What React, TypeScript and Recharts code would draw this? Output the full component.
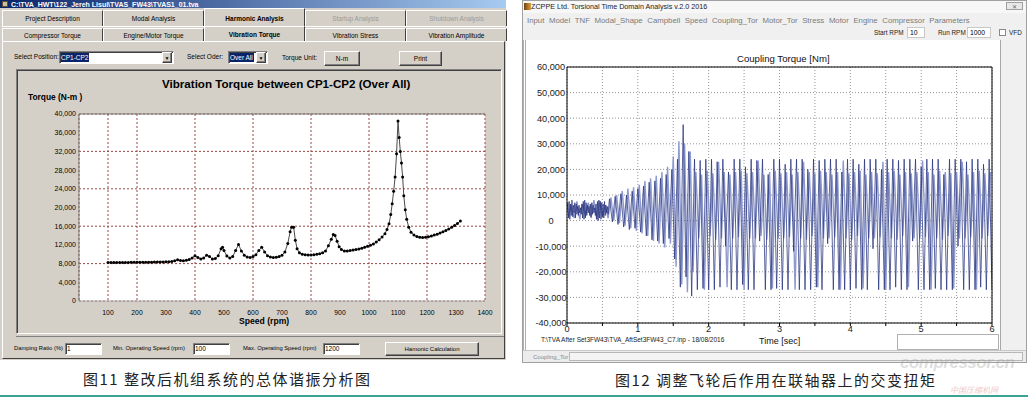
import React from 'react';
import { LineChart, Line, XAxis, YAxis, CartesianGrid } from 'recharts';

// ---- Fig 11: overall harmonic torque vs speed ----
const speedRpm = [
  100, 110, 120, 130, 140, 150, 160, 170, 180, 190,
  200, 210, 220, 230, 240, 250, 260, 270, 280, 290,
  300, 310, 320, 330, 340, 350, 360, 370, 380, 390,
  400, 410, 420, 430, 440, 450, 460, 470, 480, 490,
  495, 500, 510, 520, 530, 540, 550, 560, 570, 580,
  590, 600, 610, 620, 630, 640, 650, 660, 670, 680,
  690, 700, 710, 720, 728, 733, 740, 746, 752, 760,
  770, 780, 790, 800, 810, 820, 830, 840, 850, 860,
  870, 877, 883, 890, 897, 905, 915, 925, 935, 945,
  955, 965, 975, 985, 995, 1005, 1015, 1025, 1035, 1045,
  1055, 1062, 1069, 1075, 1080, 1085, 1090, 1095, 1100, 1104,
  1108, 1112, 1116, 1120, 1125, 1130, 1137, 1145, 1155, 1165,
  1175, 1185, 1195, 1205, 1215, 1225, 1235, 1245, 1255, 1265,
  1275, 1285, 1295, 1305, 1315,
];
const torqueNm = [
  8250, 8250, 8250, 8250, 8250, 8260, 8260, 8260, 8270, 8270,
  8280, 8280, 8290, 8300, 8300, 8310, 8320, 8330, 8340, 8350,
  8380, 8400, 8450, 8600, 8800, 8650, 8600, 8700, 8900, 9200,
  9700, 9300, 9000, 9200, 9800, 9500, 9000, 9100, 9700, 11200,
  11500, 10800, 9600, 9200, 9500, 10800, 12100, 10700, 9800, 9400,
  9300, 9500, 9900, 10800, 11500, 10500, 9700, 9400, 9300, 9350,
  9500, 9800, 10500, 12300, 14800, 15800, 15800, 13000, 11200, 10300,
  10000, 9900, 9850, 9850, 9900, 10000, 10100, 10300, 10700, 11800,
  13200, 14200, 14000, 12800, 11600, 11000, 10700, 10700, 10800, 10900,
  11000, 11100, 11300, 11500, 11700, 11900, 12200, 12600, 13100, 13700,
  14400, 15300, 16500, 18500, 20800, 23500, 26500, 31500, 38500, 35000,
  32000, 29500, 26500, 22500, 19500, 17500, 15800, 14700, 14100, 13800,
  13650, 13600, 13650, 13750, 13900, 14100, 14300, 14550, 14800, 15100,
  15400, 15750, 16150, 16600, 17100,
];
const speedTicks = [100, 200, 300, 400, 500, 600, 700, 800, 900, 1000, 1100, 1200, 1300, 1400];
const torqueTicks = [0, 4000, 8000, 12000, 16000, 20000, 24000, 28000, 32000, 36000, 40000];
const minorSpeedTicks = Array.from({ length: 57 }, (_, i) => i * 25);
const minorTorqueTicks = Array.from({ length: 51 }, (_, i) => i * 800);

// ---- Fig 12: coupling torque in time domain ----
// start-up band, sampled every 0.01 s from 0.00 s
const darkStartNm = [
  3000, 7000, 1000, 7500, 500, 6500, 2000, 8000, 1500, 6000,
  3000, 7000, 1000, 6500, 2500, 5500, 2000, 6000, 3000, 5000,
  2500, 6500, 1000, 7500, 500, 8000, 1000, 7000, 2000, 6000,
  3000, 5500, 2000, 6500, 1500, 7000, 2500, 6000, 3000, 5000,
  2000, 6500, 500, 7500, 0, 8000, 1000, 7500, 500, 7000,
  1500, 6500, 1000, 7500, 2000, 6000, 3000, 5500, 2500, 6000,
];
// dark trace, sampled every 0.04 s from 0.60 s
const darkRestNm = [
  8500, -500, 9500, -1500, 10500, -2500, 10000, -3500, 11500, -3000,
  12500, -4500, 13500, -6000, 15000, -7500, 15500, -8000, 16500, -9000,
  18000, -7000, 20000, -15000, 24000, -26000, 37500, -22000, 27000, -29500,
  24000, -27000, 23500, -26500, 24000, -27000,
  24000, -27000, 23000, -26000, 24000, -10000, 19000, -27000, 24000, -27000,
  24000, -25000, 21000, -27000, 24000, -27000, 23500, -8000, 24000, -27000,
  18000, -27000, 24000, -26500, 24000, -27000, 22000, -27000, 24000, -12000,
  24000, -27000, 24000, -27000, 20000, -27000, 24000, -26000, 23500, -27000,
  24000, -9000, 24000, -27000, 24000, -27000, 19000, -27000, 24000, -27000,
  24000, -26500, 22000, -27000, 24000, -27000, 24000, -11000, 24000, -27000,
  20000, -27000, 24000, -27000, 24000, -26000, 23500, -27000, 24000, -27000,
  24000, -8000, 24000, -27000, 21000, -27000, 24000, -27000, 24000, -26500,
  24000, -27000, 18000, -27000, 24000, -27000, 24000, -10000, 24000, -27000,
  23000, -27000, 24000, -27000, 24000, -26000, 22000, -27000, 24000, -27000,
];
// light trace, sampled every 0.04 s from 0.02 s
const lightNm = [
  1500, 6000, 1000, 7500, 500, 6500, 2000, 7000, 1000, 8000,
  500, 7500, 1500, 6000, 1000,
  9000, 0, 10000, -1000, 11500, -2000, 12500, -3000, 13000, -4000,
  14000, -5000, 15500, -6000, 16500, -8000, 17500, -9000, 19000, -10500,
  21000, -9000, 25000,
  -18000, 31000, -25000, 30000, -28000, 27000, -20000,
  19000, -7000, 18000, -27000, 19500, -6000, 18500, -7500, 23000, -7000,
  19000, -26000, 18000, -7000, 19000, -6500, 19500, -27000, 18500, -7000,
  19000, -7000, 23500, -6000, 18000, -7500, 19000, -26500, 19500, -7000,
  18500, -7000, 19000, -6500, 18000, -27000, 19000, -7000, 23000, -7500,
  19000, -6000, 18500, -26000, 19500, -7000, 19000, -7000, 18000, -6500,
  19000, -27000, 23500, -7000, 18500, -7500, 19000, -6000, 19500, -26500,
  18000, -7000, 19000, -7000, 18500, -6500, 23000, -27000, 19000, -7000,
  19500, -7500, 18000, -6000, 19000, -26000, 18500, -7000, 19000, -7000,
  23500, -6500, 19000, -27000, 18000, -7000, 19500, -7500, 19000, -6000,
  18500, -26500, 19000, -7000, 23000, -7000, 18000, -6500, 19000, -27000,
  19500, -7000, 18500, -6000, 19000,
];
const timeTicks = [0, 0.5, 1, 1.5, 2, 2.5, 3, 3.5, 4, 4.5, 5, 5.5, 6];
const couplingTicks = [-40000, -30000, -20000, -10000, 0, 10000, 20000, 30000, 40000, 50000, 60000];

const menuItems = ['Input', 'Model', 'TNF', 'Modal_Shape', 'Campbell', 'Speed', 'Coupling_Tor', 'Motor_Tor', 'Stress', 'Motor', 'Engine', 'Compressor', 'Parameters'];
const tabsTop = ['Project Description', 'Modal Analysis', 'Harmonic Analysis', 'Startup Analysis', 'Shutdown Analysis'];
const tabsBottom = ['Compressor Torque', 'Engine/Motor Torque', 'Vibration Torque', 'Vibration Stress', 'Vibration Amplitude'];

const harmonicData = speedRpm.map((s, i) => ({ speed: s, torque: torqueNm[i] }));
const sampled = (t0: number, dt: number, vals: number[]) =>
  vals.map((v, i) => ({ t: Math.round((t0 + i * dt) * 1000) / 1000, v }));
const darkSeries = [...sampled(0, 0.01, darkStartNm), ...sampled(0.6, 0.04, darkRestNm)];
const lightSeries = sampled(0.02, 0.04, lightNm);

const UI = '"Liberation Sans", Arial, sans-serif';
const CJK = '"Noto Sans CJK SC", sans-serif';
const fmt = (v: number) => v.toLocaleString('en-US');

const raised = { borderTop: '1px solid #fff', borderLeft: '1px solid #fff', borderRight: '1px solid #404040', borderBottom: '1px solid #404040', boxShadow: 'inset -1px -1px #808080', background: '#d4d0c8' };
const sunken = { borderTop: '1px solid #808080', borderLeft: '1px solid #808080', borderRight: '1px solid #fff', borderBottom: '1px solid #fff', boxShadow: 'inset 1px 1px #404040', background: '#fff' };

const Box = ({ x, y, w, h, style, children }: any) => (
  <div style={{ position: 'absolute', left: x, top: y, width: w, height: h, boxSizing: 'border-box', ...style }}>{children}</div>
);
const Txt = ({ x, y, size = 7, color = '#000', bold = false, font = UI, style, children }: any) => (
  <div style={{ position: 'absolute', left: x, top: y, fontSize: size, lineHeight: 1, color, fontWeight: bold ? 700 : 400, whiteSpace: 'nowrap', fontFamily: font, ...style }}>{children}</div>
);
const Center = ({ children, size = 6.5, bold = false, color = '#000' }: any) => (
  <div style={{ display: 'flex', alignItems: 'center', justifyContent: 'center', width: '100%', height: '100%', fontSize: size, fontWeight: bold ? 700 : 400, color, fontFamily: UI, whiteSpace: 'nowrap' }}>{children}</div>
);

const CenteredYTick = (props: any) => {
  const { x, y, payload } = props;
  return (
    <text x={x - 14} y={y} dy={3.3} textAnchor="middle" fontSize={9.2} fill="#222" fontFamily={UI}>{fmt(payload.value)}</text>
  );
};

function HarmonicPanel() {
  return (
    <>
      <Box x={0} y={0} w={506} h={360} style={{ background: '#d4d0c8' }} />
      <Box x={0} y={0} w={506} h={8} style={{ background: 'linear-gradient(to right, #0a246a, #a6caf0)' }} />
      <Box x={2} y={1} w={6} h={6} style={{ background: '#c8c0a0', border: '1px solid #605030' }} />
      <Txt x={11} y={0.5} size={7} bold color="#fff">C:\TVA_HWT\122_Jereh Lisui\TVAS_FW43\TVAS1_01.tva</Txt>
      {tabsTop.map((t, i) => (
        <Box key={t} x={2 + i * 101} y={i === 2 ? 8 : 10} w={101} h={i === 2 ? 19 : 16}
          style={{ borderTop: '1px solid #fff', borderLeft: '1px solid #fff', borderRight: '1px solid #404040', background: '#d4d0c8' }}>
          <Center bold={i === 2} color={i >= 3 ? '#9a9a9a' : '#000'}>{t}</Center>
        </Box>
      ))}
      <Box x={2} y={26} w={503} h={1} style={{ background: '#fff' }} />
      {tabsBottom.map((t, i) => (
        <Box key={t} x={2 + i * 101} y={i === 2 ? 26 : 28} w={101} h={i === 2 ? 16 : 13}
          style={{ borderTop: '1px solid #fff', borderLeft: '1px solid #fff', borderRight: '1px solid #404040', background: '#d4d0c8' }}>
          <Center bold={i === 2}>{t}</Center>
        </Box>
      ))}
      <Box x={2} y={41} w={503} h={318} style={{ borderTop: '1px solid #fff', borderLeft: '1px solid #fff', borderRight: '1px solid #404040', borderBottom: '1px solid #404040' }} />

      <Txt x={14} y={54} size={6.5}>Select Position:</Txt>
      <Box x={59} y={51} w={115} h={13} style={sunken}>
        <div style={{ position: 'absolute', left: 1, top: 1, width: 28, height: 9, background: '#0a246a', color: '#fff', fontSize: 6.5, fontFamily: UI, lineHeight: '9px', whiteSpace: 'nowrap' }}>CP1-CP2</div>
        <Box x={102} y={0} w={10} h={11} style={raised}><Center size={5}>▼</Center></Box>
      </Box>
      <Txt x={187} y={54} size={6.5}>Select Oder:</Txt>
      <Box x={228} y={51} w={40} h={13} style={sunken}>
        <div style={{ position: 'absolute', left: 1, top: 1, width: 24, height: 9, background: '#0a246a', color: '#fff', fontSize: 6.5, fontFamily: UI, lineHeight: '9px', whiteSpace: 'nowrap' }}>Over All</div>
        <Box x={27} y={0} w={10} h={11} style={raised}><Center size={5}>▼</Center></Box>
      </Box>
      <Txt x={282} y={55} size={6.5}>Torque Unit:</Txt>
      <Box x={324} y={51} w={36} h={15} style={raised}><Center>N-m</Center></Box>
      <Box x={399} y={51} w={43} h={15} style={raised}><Center>Print</Center></Box>

      <Box x={16} y={69} w={486} h={265} style={{ borderTop: '1px solid #808080', borderLeft: '1px solid #808080', borderRight: '1px solid #fff', borderBottom: '1px solid #fff', boxShadow: 'inset 1px 1px #404040' }} />
      <Txt x={162} y={78} size={11.6} bold>Vibration Torque between CP1-CP2 (Over All)</Txt>
      <Txt x={28} y={93} size={8.4} bold>Torque (N-m )</Txt>
      <div style={{ position: 'absolute', left: 17, top: 69 }}>
        <LineChart width={484} height={263} data={harmonicData} margin={{ top: 44, right: 16, bottom: 8, left: 0 }}>
          <CartesianGrid fill="#fff" stroke="#9a4646" strokeDasharray="2 2" strokeWidth={1} />
          <XAxis xAxisId="minor" type="number" dataKey="speed" domain={[0, 1400]} ticks={minorSpeedTicks}
            orientation="bottom" mirror height={1} axisLine={false} tick={false} tickSize={3} tickLine={{ stroke: '#333' }} />
          <XAxis type="number" dataKey="speed" domain={[0, 1400]} ticks={speedTicks} height={23}
            axisLine={{ stroke: '#b0b0b0' }} tickLine={false} tickMargin={3}
            tick={{ fontSize: 6.8, fill: '#000', fontFamily: UI }} />
          <XAxis xAxisId="top" type="number" dataKey="speed" domain={[0, 1400]} orientation="top" height={1}
            axisLine={{ stroke: '#7a7a7a' }} tick={false} tickLine={false} />
          <YAxis yAxisId="minor" type="number" domain={[0, 40000]} ticks={minorTorqueTicks} width={1} mirror
            axisLine={false} tick={false} tickSize={3} tickLine={{ stroke: '#333' }} />
          <YAxis type="number" domain={[0, 40000]} ticks={torqueTicks} width={62} tickFormatter={fmt}
            axisLine={{ stroke: '#7a7a7a' }} tickLine={false} tickSize={0} tickMargin={3}
            tick={{ fontSize: 7, fill: '#000', fontFamily: UI }} />
          <Line type="linear" dataKey="torque" stroke="#4a4a4a" strokeWidth={1}
            dot={{ r: 1.5, fill: '#000', stroke: 'none' }} isAnimationActive={false} />
        </LineChart>
      </div>
      <Txt x={239} y={317} size={8.6} bold>Speed (rpm)</Txt>
      <Box x={16} y={336} w={488} h={1} style={{ background: '#808080' }} />

      <Txt x={14} y={346} size={5.8}>Damping Ratio (%)</Txt>
      <Box x={65} y={343} w={37} h={12} style={sunken}><Txt x={1} y={2} size={6.5}>1</Txt></Box>
      <Txt x={113} y={346} size={5.8}>Min. Operating Speed (rpm)</Txt>
      <Box x={193} y={343} w={37} h={12} style={sunken}><Txt x={1} y={2} size={6.5}>100</Txt></Box>
      <Txt x={243} y={346} size={5.8}>Max. Operating Speed (rpm)</Txt>
      <Box x={323} y={343} w={37} h={12} style={sunken}><Txt x={1} y={2} size={6.5}>1200</Txt></Box>
      <Box x={385} y={342} w={94} h={14} style={raised}><Center size={6}>Hamonic Calculation</Center></Box>

      <Txt x={83} y={371} size={15} font={CJK} color="#222" style={{ letterSpacing: 1.5 }}>图11 整改后机组系统的总体谐振分析图</Txt>
    </>
  );
}

function CouplingPanel() {
  return (
    <>
      <Box x={522} y={0} w={505} h={363} style={{ background: '#f0f0f0', border: '1px solid #a0a0a0' }} />
      <Box x={523} y={1} w={503} h={12} style={{ background: '#f7f7f7' }} />
      <Box x={524} y={3} w={7} h={7} style={{ background: 'linear-gradient(to right, #704010, #e0a040)' }} />
      <Txt x={531} y={3} size={7.2} color="#222">ZCPPE Ltd. Torsional Time Domain Analysis v.2.0 2016</Txt>
      <Box x={1006} y={2} w={17} h={8} style={{ border: '1px solid #a0a0a0', background: '#e8e8e8' }}><Center size={6} color="#666">✕</Center></Box>
      <div style={{ position: 'absolute', left: 527, top: 16, display: 'flex', gap: 4.6, fontSize: 7.8, fontFamily: UI, color: '#7a7a7a', whiteSpace: 'nowrap' }}>
        {menuItems.map((m) => <span key={m}>{m}</span>)}
      </div>
      <Txt x={874} y={29.5} size={6.4} color="#222">Start RPM</Txt>
      <Box x={907} y={27} w={18} h={11} style={{ background: '#fff', border: '1px solid #c8c8c8' }}><Txt x={2} y={1.5} size={6.8}>10</Txt></Box>
      <Txt x={938} y={29.5} size={6.4} color="#222">Run RPM</Txt>
      <Box x={967} y={27} w={24} h={11} style={{ background: '#fff', border: '1px solid #c8c8c8' }}><Txt x={2} y={1.5} size={6.8}>1000</Txt></Box>
      <Box x={999} y={29} w={7} h={7} style={{ background: '#fff', border: '1px solid #888' }} />
      <Txt x={1009} y={29.5} size={6.4} color="#222">VFD</Txt>

      <Box x={523} y={40} w={478} h={310} style={{ background: '#fff', borderLeft: '3px double #b0b0b0', borderRight: '1px solid #a8a8a8' }} />
      <Txt x={737} y={54} size={9.6} color="#111">Coupling Torque [Nm]</Txt>
      <div style={{ position: 'absolute', left: 524, top: 45 }}>
        <LineChart width={476} height={300} margin={{ top: 21, right: 7, bottom: 0, left: 0 }}>
          <CartesianGrid stroke="#7a7a7a" strokeDasharray="1 2" strokeWidth={0.8} />
          <XAxis type="number" dataKey="t" domain={[0, 6]} ticks={timeTicks} height={22} allowDataOverflow
            tickFormatter={(v: number) => (Number.isInteger(v) ? String(v) : '')}
            axisLine={{ stroke: '#000' }} tickLine={{ stroke: '#000' }} tickSize={3}
            tick={{ fontSize: 9.2, fill: '#222', fontFamily: UI }} tickMargin={-1} />
          <XAxis xAxisId="top" type="number" dataKey="t" domain={[0, 6]} orientation="top" height={1}
            axisLine={{ stroke: '#000' }} tick={false} tickLine={false} />
          <YAxis type="number" domain={[-40000, 60000]} ticks={couplingTicks} width={43} allowDataOverflow
            axisLine={{ stroke: '#000' }} tickLine={false} tickSize={0} tick={<CenteredYTick />} />
          <YAxis yAxisId="right" orientation="right" type="number" domain={[-40000, 60000]} width={1}
            axisLine={{ stroke: '#000' }} tick={false} tickLine={false} />
          <Line data={lightSeries} type="linear" dataKey="v" stroke="#8e9acd" strokeWidth={1.4} dot={false} isAnimationActive={false} />
          <Line data={darkSeries} type="linear" dataKey="v" stroke="#25327c" strokeWidth={0.75} dot={false} isAnimationActive={false} />
        </LineChart>
      </div>
      <Txt x={541} y={337} size={6.5} color="#222">T:\TVA After Set3FW43\TVA_AftSet3FW43_C7.inp - 18/08/2016</Txt>
      <Txt x={759} y={337} size={9} color="#111">Time [sec]</Txt>
      <Box x={897} y={334} w={102} h={16} style={{ border: '1px solid #b0b0b0', background: '#fff' }} />
      <Box x={523} y={350} w={503} h={12} style={{ background: '#ececec', borderTop: '1px solid #c8c8c8' }} />
      <Txt x={533} y={354} size={6} color="#8a8a8a">Coupling_Tor</Txt>
      <Box x={569} y={352} w={454} h={9} style={{ border: '1px solid #b8b8b8', background: '#f4f4f4' }} />

      <Txt x={900} y={354} size={17} bold color="rgba(160,160,160,0.35)" style={{ fontStyle: 'italic', letterSpacing: -0.5 }}>compressor.cn</Txt>
      <Txt x={950} y={386} size={8} font={CJK} color="rgba(220,120,120,0.45)" style={{ fontStyle: 'italic' }}>中国压缩机网</Txt>
      <Txt x={615} y={372} size={15} font={CJK} color="#222" style={{ letterSpacing: 1.5 }}>图12 调整飞轮后作用在联轴器上的交变扭矩</Txt>
    </>
  );
}

export default function App() {
  return (
    <div style={{ position: 'fixed', left: 0, top: 0, width: 1028, height: 398, background: '#fff', overflow: 'hidden' }}>
      <HarmonicPanel />
      <CouplingPanel />
      <Box x={0} y={395} w={1028} h={2} style={{ background: '#3aa394' }} />
    </div>
  );
}
